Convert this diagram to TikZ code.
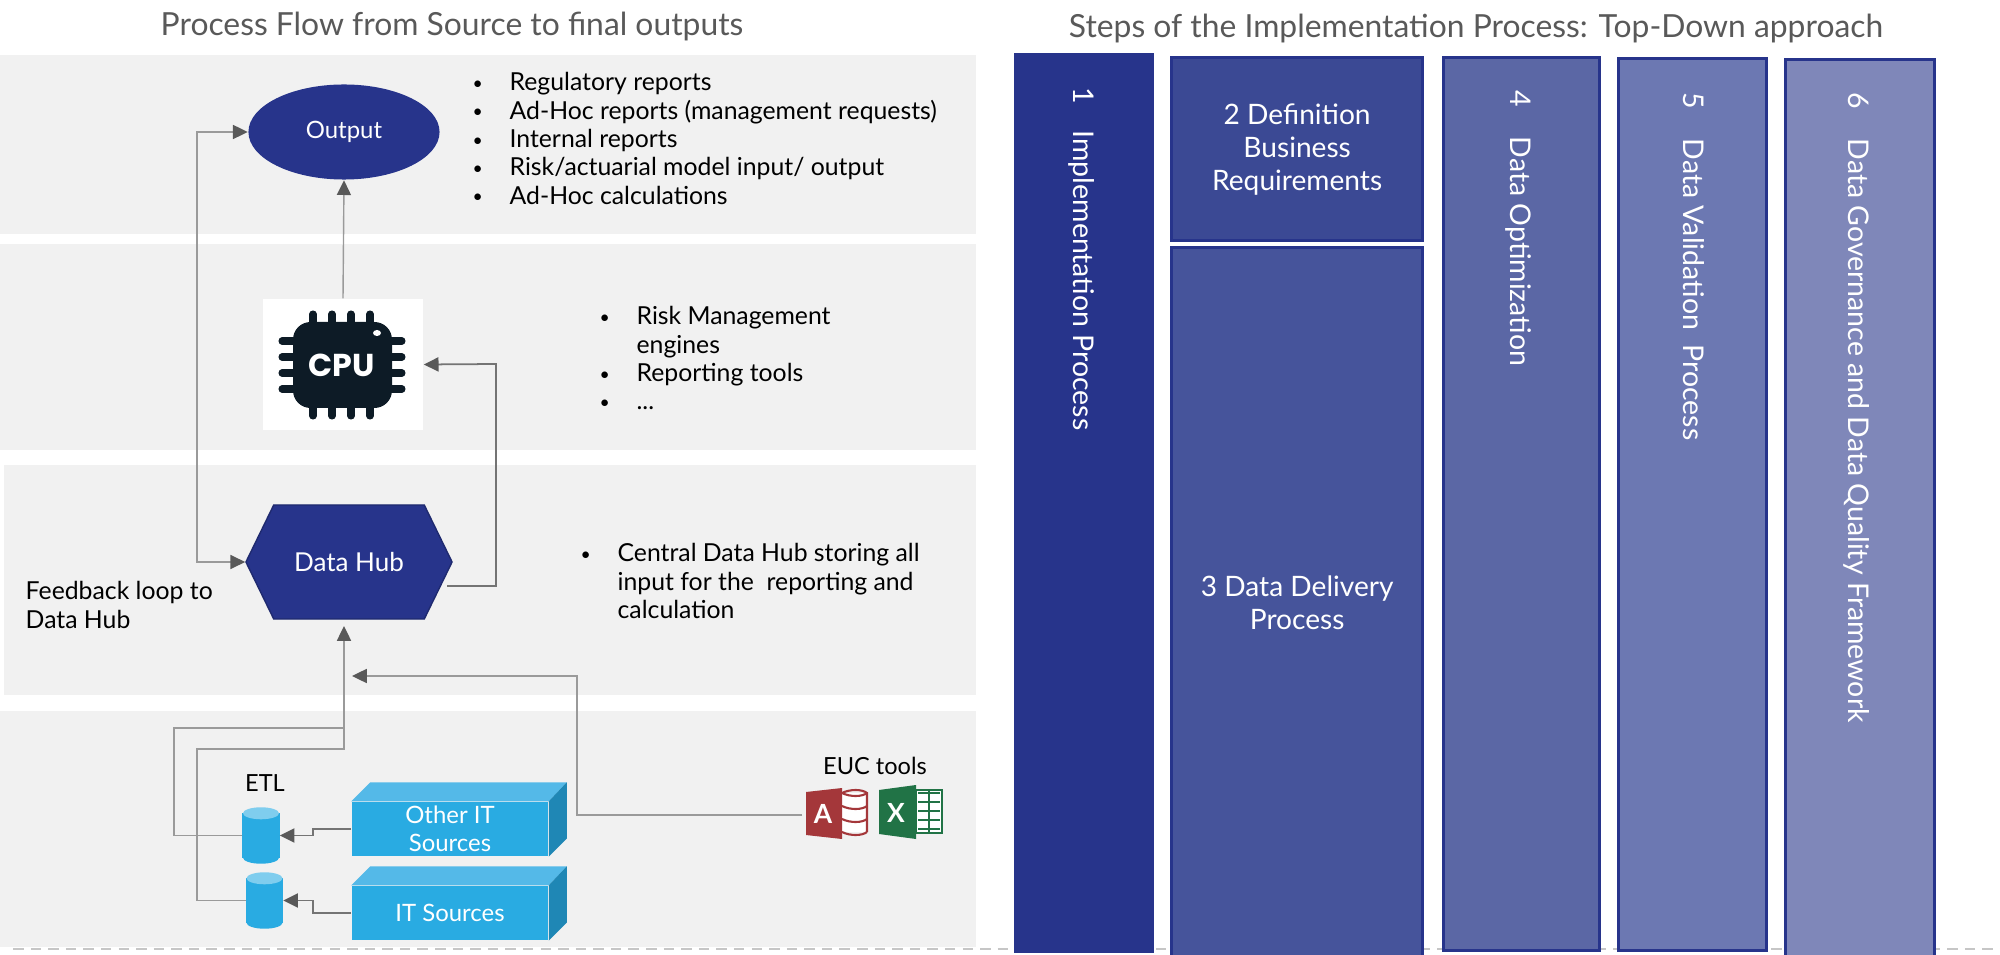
\documentclass[tikz,border=0pt]{standalone}
\usepackage{fontspec}
\setmainfont{Lato}
\newfontfamily\chipfont{Poppins}
\usepackage{tikz}
\usetikzlibrary{arrows.meta,calc,positioning,shapes.geometric,shapes.symbols}
\definecolor{cBand}{HTML}{F1F1F1}
\definecolor{cNavy}{HTML}{27348B}
\definecolor{cStepB}{HTML}{3B4994}
\definecolor{cStepC}{HTML}{46549B}
\definecolor{cStepD}{HTML}{5B67A5}
\definecolor{cStepE}{HTML}{6C78B2}
\definecolor{cStepF}{HTML}{7F87B9}
\definecolor{cSky}{HTML}{29ABE2}
\definecolor{cSkyTop}{HTML}{54B9E8}
\definecolor{cSkySide}{HTML}{1F87B5}
\definecolor{cCyl}{HTML}{7FCDEE}
\definecolor{cChip}{HTML}{0D1B26}
\definecolor{cTitle}{HTML}{595959}
\definecolor{cWire}{HTML}{9A9A9A}
\definecolor{cTip}{HTML}{595959}
\definecolor{cAccess}{HTML}{A4373A}
\definecolor{cExcel}{HTML}{217346}
\newcommand{\bul}{\makebox[9pt][l]{\raisebox{0.4pt}{\fontsize{5}{8}\selectfont\textbullet}}}
\newcommand{\nobul}{\makebox[9pt][l]{}}

\begin{document}
\begin{tikzpicture}[x=0.01cm,y=-0.01cm,>={Triangle[length=4.2pt,width=4pt,color=cTip]},
   wire/.style={cWire,line width=0.4pt},
   darkwire/.style={cWire!75!black,line width=0.5pt},
   band/.style={fill=cBand,draw=none},
   title/.style={cTitle,font=\fontsize{9.05}{11}\selectfont},
   listtxt/.style={anchor=north west,align=left,inner sep=0pt,font=\fontsize{7.05}{8.05}\selectfont},
   lbl/.style={inner sep=0pt,font=\fontsize{6.7}{8}\selectfont},
   stepbox/.style={anchor=north west,draw=cNavy,line width=0.9pt,inner sep=0pt,text=white,align=center,
     font=\fontsize{8}{9.4}\selectfont},
   steptxt/.style={anchor=west,rotate=-90,inner sep=0pt,text=white,font=\fontsize{8.1}{9.4}\selectfont},
   itbox/.style={fill=cSky,inner sep=0pt,minimum width=1.96cm,minimum height=0.54cm,text=white,align=center,
     font=\fontsize{6.8}{8}\selectfont},
   etl/.style={inner sep=0pt,minimum width=0.36cm,minimum height=0.55cm},
   pin/.style={cChip,line width=2pt,line cap=round}]
  \useasboundingbox (0,0) rectangle (2000,955);
  % bands
  \fill[band] (0,55) rectangle (976,234);
  \fill[band] (0,244) rectangle (976,450);
  \fill[band] (4,465) rectangle (976,695);
  \fill[band] (0,711) rectangle (976,947);
  \draw[gray!45,line width=0.4pt,densely dashed] (13,949) -- (2000,949);
  % titles
  \node[title] (flowtitle) at (452,27) {Process Flow from Source to final outputs};
  \node[title] (stepstitle) at (1476,29) {Steps of the Implementation Process: Top-Down approach};
  % main nodes
  \node[ellipse,fill=cNavy,text=white,inner sep=0pt,minimum width=1.91cm,minimum height=0.95cm,
     font=\fontsize{6.8}{8}\selectfont] (output) at (344,132) {Output};
  \node[signal,signal to=east and west,signal pointer angle=128,fill=cNavy,draw=cNavy!80!black,
     line width=0.4pt,inner sep=0pt,minimum width=2.06cm,minimum height=1.14cm,text=white,
     font=\fontsize{7.4}{9}\selectfont] (hub) at (349,562) {Data Hub};
  \node[fill=white,inner sep=0pt,minimum width=1.6cm,minimum height=1.31cm] (cpu) at (343,364.5) {};
  % chip
  \foreach \p in {313,332,351,370}{
    \draw[pin] (\p,314) -- (\p,416);
  }
  \foreach \p in {341,357,373,389}{
    \draw[pin] (282,\p) -- (402,\p);
  }
  \fill[cChip,rounded corners=5pt] (293,322) rectangle (392,408);
  \fill[white] (377,333) ellipse (4 and 3);
  \node[text=white,inner sep=0pt,font=\fontsize{9}{10}\chipfont\bfseries\selectfont] (cputxt) at (341.5,365) {CPU};
  % sources
  \node[itbox] (other) at (450,829) {Other IT\\Sources};
  \node[itbox] (its) at (450,913) {IT Sources};
  \foreach \b in {other,its}{
    \fill[cSkyTop] (\b.north west) -- ++(19,-19) -- ($(\b.north east)+(18,-19)$) -- (\b.north east) -- cycle;
    \fill[cSkySide] (\b.north east) -- ++(18,-19) -- ($(\b.south east)+(18,-18)$) -- (\b.south east) -- cycle;
  }
  \node[etl] (etlA) at (261,835.5) {};
  \node[etl] (etlB) at (264.5,900.5) {};
  \foreach \c in {etlA,etlB}{
    \fill[cSky] ($(\c.north west)+(0,6)$) rectangle ($(\c.south east)+(0,-6)$);
    \fill[cSky] ($(\c.south)+(0,-6)$) ellipse (18 and 6);
    \fill[cCyl] ($(\c.north)+(0,6)$) ellipse (18 and 6);
  }
  \node[lbl] (etllbl) at (265,783) {ETL};
  % EUC icons
  \fill[white] (842,793) rectangle (867,832);
  \foreach \y in {793,806,819,832}{
    \draw[cAccess,line width=0.6pt] (842,\y) .. controls (850,\y+4) and (862,\y+4) .. (867,\y);
  }
  \draw[cAccess,line width=0.6pt] (842,793) .. controls (850,789) and (862,789) .. (867,793) -- (867,832);
  \fill[cAccess] (806,792) -- (842,788) -- (842,839) -- (806,835) -- cycle;
  \node[text=white,inner sep=0pt,font=\fontsize{7.5}{9}\bfseries\selectfont] (accessA) at (823,814) {A};
  \fill[white] (916,790) rectangle (942,833);
  \draw[cExcel,line width=0.6pt] (916,790) rectangle (942,833);
  \foreach \y in {790,799,808,817,826}{
    \fill[cExcel] (918,\y+2) rectangle (928,\y+4);
    \fill[cExcel] (930,\y+2) rectangle (940,\y+4);
  }
  \fill[cExcel] (928,790) rectangle (930,833);
  \fill[cExcel] (879,790) -- (916,785) -- (916,839) -- (879,834) -- cycle;
  \node[text=white,inner sep=0pt,font=\fontsize{7.5}{9}\bfseries\selectfont] (excelX) at (896,813) {X};
  \node[lbl] (euclbl) at (875,766) {EUC tools};
  % connectors
  \coordinate (loop) at (197,300);
  \coordinate (hubin) at (344,626);
  \coordinate (eucin) at (352,676);
  \coordinate (eucturn) at (577,676);
  \coordinate (eucout) at (802,815);
  \coordinate (busA) at (174,728);
  \coordinate (busB) at (197,749);
  \coordinate (cpuout) at (447,586);
  \coordinate (cpuleg) at (496,364);
  \draw[wire,<->] (output.west) -| (loop) |- (hub.west);
  \draw[wire,->] (cpu.north) -- (output.south);
  \draw[darkwire,->] (cpuout) -| (cpuleg) -- (cpu.east);
  \draw[wire,->] (eucout) -| (eucturn) -- (eucin);
  \draw[wire] (etlA.west) -| (busA) -- (344,728);
  \draw[wire,->] (etlB.west) -| (busB) -| (hubin);
  \draw[darkwire,->] (other.west) -- ++(-38,0) |- (etlA.east);
  \draw[darkwire,->] (its.west) -- ++(-38,0) |- (etlB.east);
  % bullet lists
  \node[listtxt] (outlist) at (472,72) {\bul\hspace{1.5pt}Regulatory reports\\\bul\hspace{1.5pt}Ad-Hoc reports (management requests)\\\bul\hspace{1.5pt}Internal reports\\\bul\hspace{1.5pt}Risk/actuarial model input/ output\\\bul\hspace{1.5pt}Ad-Hoc calculations};
  \node[listtxt] (cpulist) at (599,306) {\bul\hspace{1.5pt}Risk Management\\\nobul\hspace{1.5pt}engines\\\bul\hspace{1.5pt}Reporting tools\\\bul\hspace{1.5pt}...};
  \node[listtxt] (hublist) at (580,543) {\bul\hspace{1.5pt}Central Data Hub storing all\\\nobul\hspace{1.5pt}input for the\ \ reporting and\\\nobul\hspace{1.5pt}calculation};
  \node[listtxt] (fblbl) at (25,581) {Feedback loop to\\Data Hub};
  % steps
  \node[stepbox,fill=cNavy,minimum width=1.37cm,minimum height=8.96cm] (stepA) at (1014,53) {};
  \node[stepbox,fill=cStepB,minimum width=2.51cm,minimum height=1.83cm] (stepB) at (1170,56) {2 Definition\\Business\\Requirements};
  \node[stepbox,fill=cStepC,minimum width=2.51cm,minimum height=7.1cm] (stepC) at (1170,246) {3 Data Delivery\\Process};
  \node[stepbox,fill=cStepD,minimum width=1.56cm,minimum height=8.92cm] (stepD) at (1442,56) {};
  \node[stepbox,fill=cStepE,minimum width=1.48cm,minimum height=8.91cm] (stepE) at (1617,57) {};
  \node[stepbox,fill=cStepF,minimum width=1.49cm,minimum height=9cm] (stepF) at (1784,58) {};
  \node[steptxt] (txtA) at (1082,87) {1\hspace{7.5pt}Implementation Process};
  \node[steptxt] (txtD) at (1518,90) {4\hspace{8.4pt}Data Optimization};
  \node[steptxt] (txtE) at (1694,92) {5\hspace{8.4pt}Data Validation\ \ Process};
  \node[steptxt] (txtF) at (1857,92) {6\hspace{8.4pt}Data Governance and Data Quality Framework};
\end{tikzpicture}
\end{document}
